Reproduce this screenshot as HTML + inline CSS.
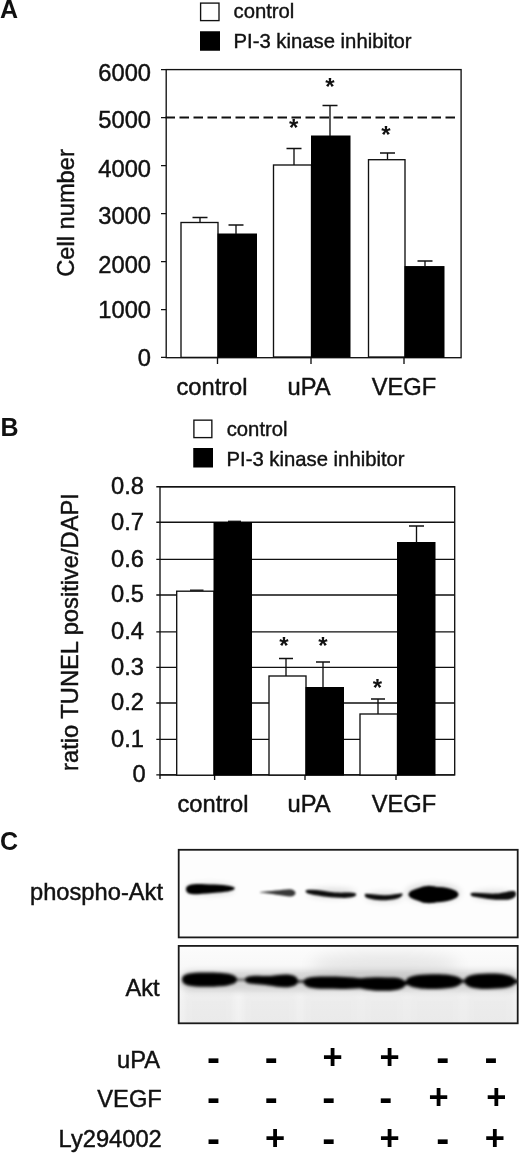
<!DOCTYPE html>
<html lang="en">
<head>
<meta charset="utf-8">
<title>Figure</title>
<style>
html,body{margin:0;padding:0;background:#fff;}
body{width:520px;height:1153px;overflow:hidden;position:relative;font-family:"Liberation Sans",Arial,sans-serif;color:#111;}
svg{position:absolute;left:0;top:0;display:block;}
svg text{font-family:"Liberation Sans",Arial,sans-serif;fill:#111;}
.ax{stroke:#111;stroke-width:1.35;fill:none;}
.wb{fill:#fff;stroke:#111;stroke-width:1.35;}
.bb{fill:#000;stroke:#000;stroke-width:1;}
.bx{stroke:#1a1a1a;stroke-width:1.8;fill:none;}
.eb{stroke:#111;stroke-width:1.35;fill:none;}
.t22{font-size:23.7px;stroke:#111;stroke-width:.45px;}
.t20{font-size:20.3px;stroke:#111;stroke-width:.4px;}
.lbl{font-size:25px;font-weight:bold;}
.pm{font-weight:bold;}.pm text{fill:#000;}.mi{font-size:39px;}.pl{font-size:34.5px;}
.star{font-size:24px;font-weight:bold;text-anchor:middle;}
</style>
</head>
<body>
<svg width="520" height="1153" viewBox="0 0 520 1153">
<defs>
<filter id="b1" x="-20%" y="-80%" width="140%" height="260%"><feGaussianBlur stdDeviation="1.25"/></filter>
<filter id="b2" x="-20%" y="-80%" width="140%" height="260%"><feGaussianBlur stdDeviation="1.4"/></filter>
<filter id="b3" x="-20%" y="-80%" width="140%" height="260%"><feGaussianBlur stdDeviation="3.5"/></filter>
<filter id="b4" x="-10%" y="-150%" width="120%" height="400%"><feGaussianBlur stdDeviation="3.2"/></filter>
<linearGradient id="bg2" x1="0" y1="0" x2="0" y2="1"><stop offset="0" stop-color="#fcfcfc"/><stop offset=".3" stop-color="#f8f8f8"/><stop offset="1" stop-color="#f3f3f3"/></linearGradient>
<filter id="b5" x="-30%" y="-150%" width="160%" height="400%"><feGaussianBlur stdDeviation="8"/></filter>
<clipPath id="c1"><rect x="178" y="850" width="340" height="88"/></clipPath>
<clipPath id="c2"><rect x="178" y="946" width="340" height="77"/></clipPath>
</defs>

<!-- ============ PANEL A ============ -->
<g id="panelA">
<text class="lbl" x="0" y="17.75">A</text>
<rect class="wb" x="200.6" y="3.1" width="18.4" height="17.5"/>
<rect fill="#000" x="200" y="31.25" width="20" height="19.5"/>
<text class="t20" x="233.5" y="17.5">control</text>
<text class="t20" x="233.5" y="48">PI-3 kinase inhibitor</text>

<rect class="ax" x="166.2" y="69.6" width="294.9" height="288.1"/>
<path class="ax" d="M161 69.6H166M161 117.6H166M161 165.6H166M161 213.6H166M161 261.6H166M161 309.6H166M161 357.4H166"/>
<path class="ax" d="M217.5 357V364M311 357V364M404 357V364"/>
<path class="ax" style="stroke-width:2" stroke-dasharray="9.5 4.5" d="M165.5 117.6H455.2"/>
<g class="t22" text-anchor="end">
<text x="151" y="80.5">6000</text>
<text x="151" y="128.2">5000</text>
<text x="151" y="176.8">4000</text>
<text x="151" y="224.3">3000</text>
<text x="151" y="273.0">2000</text>
<text x="151" y="318.0">1000</text>
<text x="151" y="365.5">0</text>
</g>
<text class="t22" text-anchor="middle" transform="translate(74.2 213) rotate(-90)">Cell number</text>

<rect class="wb" x="181" y="222.5" width="37" height="134.9"/>
<rect class="bb" x="218" y="234" width="38.5" height="123"/>
<rect class="wb" x="273.5" y="165" width="38" height="192"/>
<rect class="bb" x="311.5" y="136" width="38.5" height="221"/>
<rect class="wb" x="368.5" y="159.7" width="36.5" height="197.3"/>
<rect class="bb" x="405" y="266.6" width="39" height="90.6"/>

<path class="eb" d="M200 222.5V217.5M192.5 217.5H207.5"/>
<path class="eb" d="M236 234V225M228.5 225H243.5"/>
<path class="eb" d="M294 165V148.5M286.5 148.5H301.5"/>
<path class="eb" d="M330 136V105.5M322.5 105.5H337.5"/>
<path class="eb" d="M387.5 159V153M380 153H395"/>
<path class="eb" d="M425 266V261M417.5 261H432.5"/>

<text class="star" x="293.7" y="136">*</text>
<text class="star" x="330" y="95.2">*</text>
<text class="star" x="386" y="143.2">*</text>

<g class="t22" text-anchor="middle">
<text x="212" y="395">control</text>
<text x="309" y="395">uPA</text>
<text x="404" y="395">VEGF</text>
</g>
</g>

<!-- ============ PANEL B ============ -->
<g id="panelB">
<text class="lbl" x="0.4" y="435.6">B</text>
<rect class="wb" x="193.9" y="420.15" width="17.95" height="17.45"/>
<rect fill="#000" x="193.25" y="448" width="19.75" height="19.5"/>
<text class="t20" x="226.7" y="435.5">control</text>
<text class="t20" x="226.5" y="465.5">PI-3 kinase inhibitor</text>

<rect class="ax" x="160" y="486.7" width="294.7" height="288.2"/>
<path class="ax" d="M156.3 486.7H454.7M156.3 522.2H454.7M156.3 559.3H454.7M156.3 595.0H454.7M156.3 631.8H454.7M156.3 667.4H454.7M156.3 703.0H454.7M156.3 739.3H454.7M156.3 774.9H454.7"/>
<path class="ax" d="M214.6 775V780M305 775V780M396 775V780M160 775V779"/>
<g class="t22" text-anchor="end">
<text x="144" y="494.0">0.8</text>
<text x="144" y="529.5">0.7</text>
<text x="144" y="566.6">0.6</text>
<text x="144" y="602.3">0.5</text>
<text x="144" y="639.1">0.4</text>
<text x="144" y="674.7">0.3</text>
<text x="144" y="710.3">0.2</text>
<text x="144" y="746.6">0.1</text>
<text x="145.7" y="782.2">0</text>
</g>
<text class="t22" text-anchor="middle" transform="translate(78 632) rotate(-90)">ratio TUNEL positive/DAPI</text>

<rect class="wb" x="176.7" y="591.2" width="37.3" height="184"/>
<rect class="bb" x="214" y="522.5" width="37.5" height="252.5"/>
<rect class="wb" x="269" y="676" width="37" height="99"/>
<rect class="bb" x="306" y="687.5" width="37.5" height="87.5"/>
<rect class="wb" x="360" y="714" width="37.5" height="61"/>
<rect class="bb" x="397.5" y="542.5" width="37.5" height="232.5"/>

<path class="eb" d="M190 590.2H203.5"/>
<path class="eb" d="M228 521.3H241"/>
<path class="eb" d="M286 676V658.5M279 658.5H293"/>
<path class="eb" d="M323 687.5V662M316 662H330"/>
<path class="eb" d="M378 714V699M371 699H385"/>
<path class="eb" d="M416.5 542.5V526M409 526H424"/>

<text class="star" x="284" y="654.2">*</text>
<text class="star" x="323" y="654.2">*</text>
<text class="star" x="377.5" y="696.2">*</text>

<g class="t22" text-anchor="middle">
<text x="213" y="811.7">control</text>
<text x="309" y="811.7">uPA</text>
<text x="404" y="811.7">VEGF</text>
</g>
</g>

<!-- ============ PANEL C ============ -->
<g id="panelC">
<text class="lbl" x="0" y="849.7">C</text>
<text class="t22" x="30" y="899.8">phospho-Akt</text>
<text class="t22" x="125.4" y="996.2">Akt</text>

<g clip-path="url(#c1)">
<rect x="178" y="850" width="340" height="88" fill="#fdfdfd"/>
<g filter="url(#b3)" fill="#000" opacity=".16">
<ellipse cx="433" cy="893" rx="27" ry="9"/>
<ellipse cx="210" cy="889" rx="24" ry="5"/>
<ellipse cx="493" cy="895" rx="20" ry="4"/>
<ellipse cx="332" cy="893" rx="24" ry="4"/>
<ellipse cx="384" cy="897" rx="18" ry="4"/>
</g>
<g filter="url(#b1)" fill="#000">
<path d="M186 889C186 884 195 883.6 205 884.2C218 884.8 230 884.6 234.5 887.6C236 890.5 228 892 218 892.6C210 893.2 204 894 198 894.2C190 894.4 186 893.5 186 889Z"/>
<path opacity=".78" d="M260 892C270 891.3 282 890 289 889.3C297 889 298 896.5 290 896.5C283 896 271 893.6 260 892.6Z"/>
<path opacity=".95" d="M307 890C315 889 325 891.5 335 892.5C345 893 352 891.8 356 893.8C357.5 897 350 898.3 340 897.8C328 897.2 315 895.5 308 893.5C305 892.5 305 890.5 307 890Z"/>
<path opacity=".95" d="M365.5 893.8C372 893.8 378 895.2 385 895.2C392 895.2 398 893.4 402 893.2C404.5 895.5 399 899.6 386 900.2C376 900.4 368 899 365.5 897C364.5 895.5 364.5 894.2 365.5 893.8Z"/>
<ellipse cx="433.5" cy="894.5" rx="25" ry="7.8"/>
<ellipse cx="429" cy="894.5" rx="15" ry="8.8"/>
<path opacity=".95" d="M471.5 893C480 892.4 488 894 496 893.6C504 893 509 890.4 514.5 891C518 894 515.5 899.3 507 899.8C496 900.2 484 898.6 473 896.4C470 895.6 470 893.4 471.5 893Z"/>
</g>
</g>
<rect class="bx" x="178.7" y="849.8" width="339" height="87.6"/>

<g clip-path="url(#c2)">
<rect x="178" y="945" width="340" height="79" fill="url(#bg2)"/>
<g filter="url(#b4)" fill="#000" opacity=".15">
<rect x="180" y="971" width="340" height="20" rx="10"/>
</g>
<g filter="url(#b5)" fill="#000" opacity=".07"><ellipse cx="385" cy="966" rx="75" ry="14"/></g>
<g filter="url(#b3)" fill="#000" opacity=".03">
<rect x="183" y="992" width="52" height="40"/><rect x="242" y="992" width="56" height="40"/><rect x="302" y="992" width="58" height="40"/><rect x="362" y="992" width="44" height="40"/><rect x="408" y="992" width="54" height="40"/><rect x="465" y="992" width="50" height="40"/>
</g>
<g filter="url(#b2)" fill="#000">
<path d="M182 979.5C182 973.5 190 972.8 205 972.6C222 972.4 237 973.5 237 979.5C237 985.5 224 986.5 208 986.8C192 987 182 986 182 979.5Z"/>
<path d="M236 978.6H247V981H236Z" opacity=".55"/>
<path d="M245 979.8C245 975.6 254 975.6 262 976C272 976.4 280 974.2 287 974.4C295 974.8 298 977.5 298 981C298 985.5 292 987.6 284 987.2C274 986.6 268 984.8 260 984.4C252 984 245 984 245 979.8Z"/>
<path d="M296 980H306V983H296Z" opacity=".7"/>
<path d="M303.5 982C303.5 977 312 976.4 325 976.4C340 976.4 352 977 361 978.2C372 976.8 384 977 394 977.6C401 978 405.5 980 405.5 984C405.5 988.5 398 990.6 386 990.8C375 991 366 989.6 360 988.2C350 989.2 338 989 325 988.8C312 988.6 303.5 987.5 303.5 982Z"/>
<path d="M403 981H412V985H403Z"/>
<path d="M406 981.5C406 976 416 974.4 432 974.2C448 974 462 975.8 462 981C462 986.5 452 988.6 436 989C420 989.3 406 987.5 406 981.5Z"/>
<path d="M460 979.5H468V983H460Z" opacity=".8"/>
<path d="M464.5 981C464.5 975.5 474 973.6 488 973.4C502 973.2 513 975 515 979.5L520 980V983L515 983.5C513 987.5 502 988.8 488 989C474 989.2 464.5 987 464.5 981Z"/>
</g>
</g>
<rect class="bx" x="178.7" y="945.9" width="339" height="77.4"/>

<g class="t22" text-anchor="end">
<text x="160" y="1067.8">uPA</text>
<text x="161.8" y="1106.7">VEGF</text>
<text x="161.8" y="1147">Ly294002</text>
</g>
<g class="pm">
<text class="mi" x="206.9" y="1070.5">-</text><text class="mi" x="264.7" y="1070.5">-</text><text class="pl" x="322.4" y="1068.5">+</text><text class="pl" x="379.5" y="1068.5">+</text><text class="mi" x="436.2" y="1070.5">-</text><text class="mi" x="484.6" y="1070.5">-</text>
<text class="mi" x="206.9" y="1110.5">-</text><text class="mi" x="264.7" y="1110.5">-</text><text class="mi" x="322.2" y="1110.5">-</text><text class="mi" x="379.3" y="1110.5">-</text><text class="pl" x="428.4" y="1109.2">+</text><text class="pl" x="486.3" y="1109.2">+</text>
<text class="mi" x="206.9" y="1151.6">-</text><text class="pl" x="264.9" y="1150.1">+</text><text class="mi" x="322.2" y="1151.6">-</text><text class="pl" x="379.5" y="1150.1">+</text><text class="mi" x="436.2" y="1151.6">-</text><text class="pl" x="484.8" y="1150.1">+</text>
</g>
</g>
</svg>
</body>
</html>
